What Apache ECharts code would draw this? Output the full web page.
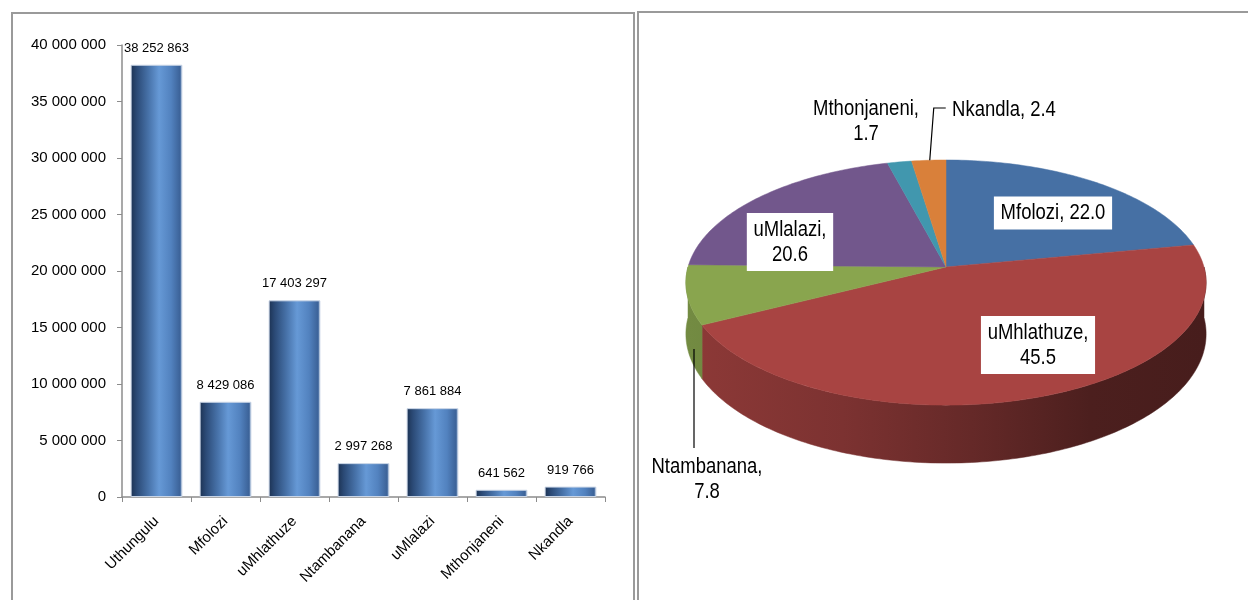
<!DOCTYPE html>
<html>
<head>
<meta charset="utf-8">
<script src="https://cdn.jsdelivr.net/npm/echarts@6/dist/echarts.min.js"></script>
<style>
  html, body { margin: 0; padding: 0; background: #fff; }
  #chart { width: 1248px; height: 600px; }
</style>
</head>
<body>
<div id="chart"></div>
<script>
// Municipal totals (bar chart)
const barCategories = ['Uthungulu', 'Mfolozi', 'uMhlathuze', 'Ntambanana', 'uMlalazi', 'Mthonjaneni', 'Nkandla'];
const barValues = [38252863, 8429086, 17403297, 2997268, 7861884, 641562, 919766];

// Y axis scale
const yMin = 0;
const yMax = 40000000;
const yStep = 5000000;

// Percentage shares of the district total (pie chart)
const pieCategories = ['Mfolozi', 'uMhlathuze', 'Ntambanana', 'uMlalazi', 'Mthonjaneni', 'Nkandla'];
const pieShares = [22.0, 45.5, 7.8, 20.6, 1.7, 2.4];

const FONT = "'Liberation Sans', Arial, sans-serif";

function spaced(v) {
  return String(v).replace(/\B(?=(\d{3})+(?!\d))/g, ' ');
}

// ---- 3D pie geometry (perspective-projected disc) ----
const pieGeo = { cx: 946, cy: 267, a: 258, b: 120.6, p: 0.127, depth: 50.6 };
const pieColors = ['#4670a4', '#a84442', '#89a54e', '#72578c', '#4197ae', '#d9803a'];
const wallShade = [[0, 0.84], [0.3, 0.74], [0.55, 0.6], [0.78, 0.45], [1, 0.42]];

// Label placement for each slice
const pieLabelLayout = {
  'Mfolozi':     { x: 1053, y: 213, wrap: false, box: true },
  'uMhlathuze':  { x: 1038, y: 345, wrap: true,  box: true },
  'Ntambanana':  { x: 707,  y: 479, wrap: true,  box: false, line: [[694, 349], [694, 448]] },
  'uMlalazi':    { x: 790,  y: 242, wrap: true,  box: true },
  'Mthonjaneni': { x: 866,  y: 121, wrap: true,  box: false },
  'Nkandla':     { x: 1004, y: 110, wrap: false, box: false, leader: true }
};

const total = pieShares.reduce((s, v) => s + v, 0);
const starts = [];
pieShares.reduce((acc, v, i) => { starts[i] = acc; return acc + v; }, 0);

function proj(theta) {
  const c = Math.cos(theta), s = Math.sin(theta);
  const w = 1 + pieGeo.p * c;
  return {
    x: pieGeo.cx + pieGeo.a * s / w,
    y: pieGeo.cy - pieGeo.b * c / w,
    d: pieGeo.depth / w
  };
}
function angleOf(share) { return share / total * Math.PI * 2; }

function hexToRgb(h) {
  const n = parseInt(h.slice(1), 16);
  return [(n >> 16) & 255, (n >> 8) & 255, n & 255];
}
function shade(h, f) {
  const c = hexToRgb(h).map(v => Math.round(v * f));
  return 'rgb(' + c.join(',') + ')';
}

function renderTop(params, api) {
  const i = params.dataIndex;
  const t0 = angleOf(starts[i]);
  const t1 = angleOf(starts[i] + api.value(0));
  const pts = [[pieGeo.cx, pieGeo.cy]];
  const n = Math.max(2, Math.ceil((t1 - t0) / (Math.PI / 180)));
  for (let k = 0; k <= n; k++) {
    const q = proj(t0 + (t1 - t0) * k / n);
    pts.push([q.x, q.y]);
  }
  return {
    type: 'polygon',
    shape: { points: pts },
    style: { fill: pieColors[i], stroke: pieColors[i], lineWidth: 0.5 }
  };
}

function renderWall(params, api) {
  const i = params.dataIndex;
  let t0 = angleOf(starts[i]);
  let t1 = angleOf(starts[i] + api.value(0));
  t0 = Math.max(t0, Math.PI / 2);
  t1 = Math.min(t1, Math.PI * 1.5);
  if (t1 <= t0) return null;
  const top = [], bottom = [];
  const n = Math.max(2, Math.ceil((t1 - t0) / (Math.PI / 180)));
  for (let k = 0; k <= n; k++) {
    const q = proj(t0 + (t1 - t0) * k / n);
    top.push([q.x, q.y]);
    bottom.push([q.x, q.y + q.d]);
  }
  const pts = top.concat(bottom.reverse());
  const left = pieGeo.cx - pieGeo.a, right = pieGeo.cx + pieGeo.a;
  const grad = new echarts.graphic.LinearGradient(left, 0, right, 0,
    wallShade.map(s => ({ offset: s[0], color: shade(pieColors[i], s[1]) })), true);
  return {
    type: 'polygon',
    shape: { points: pts },
    style: { fill: grad, stroke: grad, lineWidth: 0.5 }
  };
}

function renderLabel(params, api) {
  const i = params.dataIndex;
  const name = pieCategories[i];
  const L = pieLabelLayout[name];
  const val = api.value(0).toFixed(1);
  const text = L.wrap ? name + ',\n' + val : name + ', ' + val;
  const children = [{
    type: 'text',
    x: L.x, y: L.y,
    scaleX: 0.84,
    style: {
      text: text,
      fill: '#000',
      font: '22px ' + FONT,
      align: 'center',
      verticalAlign: 'middle',
      lineHeight: 25,
      backgroundColor: L.box ? '#fff' : null,
      padding: L.box ? [5, 8, 3, 8] : 0
    }
  }];
  if (L.line) {
    children.push({ type: 'polyline', shape: { points: L.line }, style: { stroke: '#000', lineWidth: 1.2, fill: null } });
  }
  if (L.leader) {
    const mid = angleOf(starts[i] + api.value(0) / 2);
    const q = proj(mid);
    children.push({
      type: 'polyline',
      shape: { points: [[q.x + 1, q.y], [q.x + 5, 108], [q.x + 17, 108]] },
      style: { stroke: '#000', lineWidth: 1.2, fill: null }
    });
  }
  return { type: 'group', children: children };
}

const pieData = pieShares.map((v, i) => ({ name: pieCategories[i], value: [v, i] }));

const barGradient = new echarts.graphic.LinearGradient(0, 0, 1, 0, [
  { offset: 0, color: '#1c3252' },
  { offset: 0.12, color: '#2b4a76' },
  { offset: 0.35, color: '#4873aa' },
  { offset: 0.55, color: '#6699d6' },
  { offset: 0.78, color: '#5282bf' },
  { offset: 0.95, color: '#3c6399' },
  { offset: 1, color: '#8aa6cc' }
]);

const chart = echarts.init(document.getElementById('chart'), null, { renderer: 'canvas' });
chart.setOption({
  animation: false,
  backgroundColor: '#fff',
  graphic: [
    { type: 'rect', shape: { x: 12, y: 13, width: 622, height: 600 }, style: { fill: null, stroke: '#9a9a9a', lineWidth: 2 }, z: -1 },
    { type: 'rect', shape: { x: 638, y: 12, width: 620, height: 600 }, style: { fill: null, stroke: '#9a9a9a', lineWidth: 2 }, z: -1 }
  ],
  grid: { left: 122, right: 643, top: 45, bottom: 103, containLabel: false },
  xAxis: {
    type: 'category',
    data: barCategories,
    axisLine: { lineStyle: { color: '#8c8c8c', width: 1.5 } },
    axisTick: { show: true, length: 5, lineStyle: { color: '#8c8c8c' } },
    axisLabel: { rotate: 45, margin: 22, fontSize: 15, fontFamily: FONT, color: '#000' }
  },
  yAxis: {
    type: 'value',
    min: yMin, max: yMax, interval: yStep,
    axisLine: { show: true, lineStyle: { color: '#8c8c8c', width: 1.5 } },
    axisTick: { show: true, length: 5, lineStyle: { color: '#8c8c8c' } },
    splitLine: { show: false },
    axisLabel: { margin: 16, fontSize: 15, fontFamily: FONT, color: '#000', formatter: v => spaced(v) }
  },
  series: [
    {
      type: 'bar',
      data: barValues,
      barCategoryGap: '25%',
      itemStyle: { color: barGradient, borderColor: '#c9d5e6', borderWidth: 1 },
      label: {
        show: true, position: 'top', distance: 10,
        fontSize: 13, fontFamily: FONT, color: '#000',
        formatter: p => spaced(p.value)
      }
    },
    { type: 'custom', coordinateSystem: 'none', renderItem: renderWall, data: pieData, z: 2, silent: true },
    { type: 'custom', coordinateSystem: 'none', renderItem: renderTop, data: pieData, z: 3, silent: true },
    { type: 'custom', coordinateSystem: 'none', renderItem: renderLabel, data: pieData, z: 4, silent: true }
  ]
});
</script>
</body>
</html>
